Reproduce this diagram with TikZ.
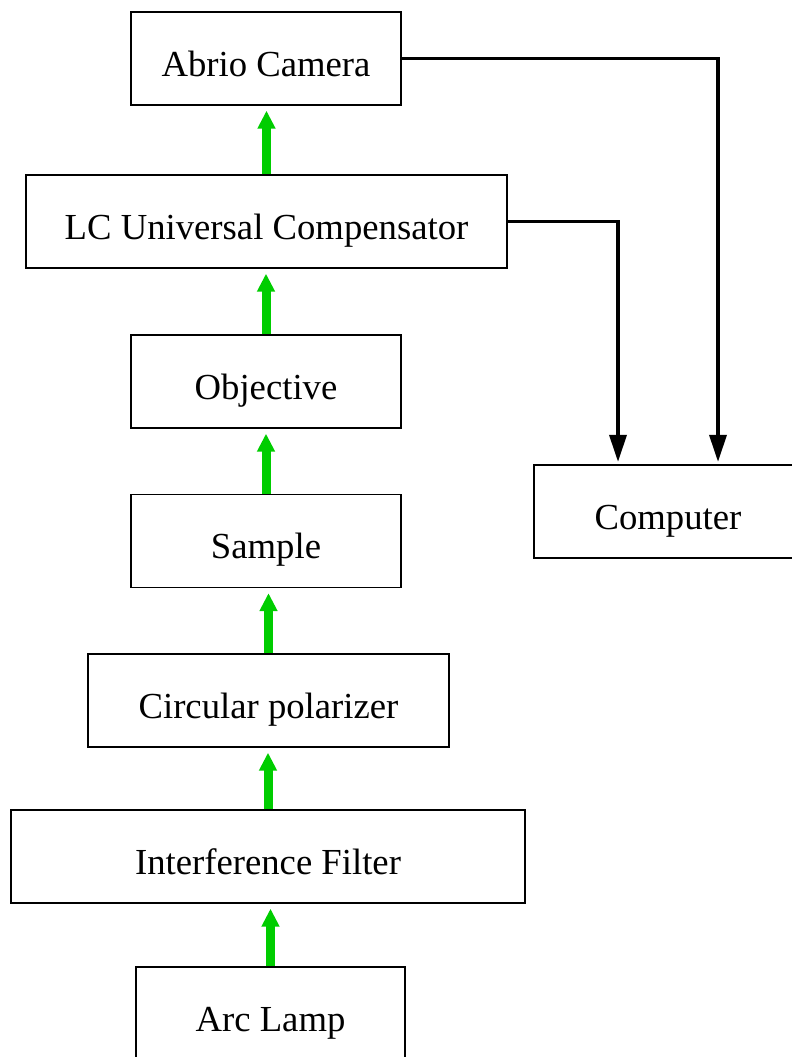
\documentclass[tikz,border=0pt]{standalone}
\usepackage{fontspec}
\setmainfont{Liberation Serif}
\usetikzlibrary{arrows.meta}
\definecolor{beamgreen}{HTML}{00CD00}

\begin{document}
\begin{tikzpicture}[
    x=1pt, y=-1pt,
    box/.style={draw, line width=1.3pt, minimum height=93pt, inner sep=0pt,
      text height=35pt, text depth=0pt, font=\fontsize{36.7}{44}\selectfont},
    every edge/.style={draw=beamgreen, line width=9pt,
      -{Triangle[width=17pt, length=18pt]}, shorten >=5pt},
    wire/.style={draw, line width=3.5pt,
      -{Triangle[width=17pt, length=27pt]}, shorten >=2.5pt}
    ]
  \clip (0, 0) rectangle (792, 1057);

  % optical path, bottom to top
  \node[box, minimum width=270pt] (cam) at (266, 58.5) {Abrio Camera};
  \node[box, minimum width=481pt] (lcc) at (266.5, 221.5) {LC Universal Compensator};
  \node[box, minimum width=270pt] (obj) at (266, 381.5) {Objective};
  \node[box, minimum width=270pt] (smp) at (266, 541) {Sample};
  \node[box, minimum width=361pt] (pol) at (268.5, 700.5) {Circular polarizer};
  \node[box, minimum width=514pt] (flt) at (268, 856.5) {Interference Filter};
  \node[box, minimum width=269pt] (lamp) at (270.5, 1013.5) {Arc Lamp};

  \node[box, minimum width=268pt] (pc) at (668, 511.5) {Computer};

  \path (lamp.north) edge (lamp.north |- flt.south);
  \path (flt.north) edge (flt.north |- pol.south);
  \path (pol.north) edge (pol.north |- smp.south);
  \path (smp.north) edge (smp.north |- obj.south);
  \path (obj.north) edge (obj.north |- lcc.south);
  \path (lcc.north) edge (lcc.north |- cam.south);

  % control lines
  \draw[wire] (cam.east) -| ([xshift=50pt]pc.north);
  \draw[wire] (lcc.east) -| ([xshift=-50pt]pc.north);

\end{tikzpicture}
\end{document}
